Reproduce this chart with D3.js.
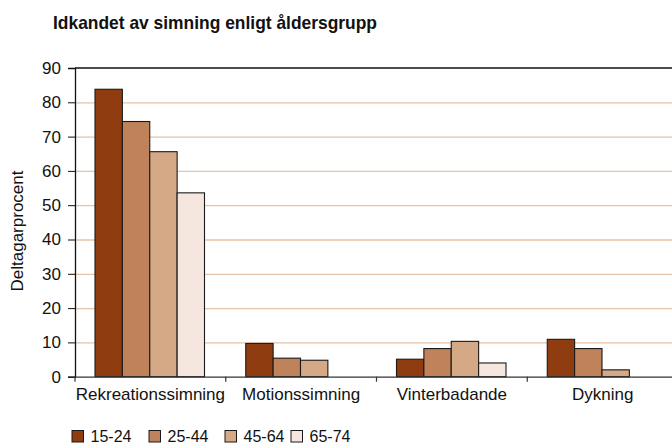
<!DOCTYPE html>
<html><head><meta charset="utf-8">
<script src="https://cdn.jsdelivr.net/npm/d3@7/dist/d3.min.js"></script>
<style>body{margin:0;background:#fff}svg{display:block;font-family:"Liberation Sans",Arial,Helvetica,sans-serif}</style>
</head><body><svg id="c" width="672" height="445"></svg>
<script>
const title = "Idkandet av simning enligt åldersgrupp";
const yLabel = "Deltagarprocent";
const categories = ["Rekreationssimning","Motionssimning","Vinterbadande","Dykning"];
const series = ["15-24","25-44","45-64","65-74"];
const s1524 = [83.8, 9.7, 5.1, 10.9];
const s2544 = [74.4, 5.4, 8.2, 8.2];
const s4564 = [65.6, 4.8, 10.3, 2.0];
const s6574 = [53.6, 0, 4.0, 0];
const yTicks = [0,10,20,30,40,50,60,70,80,90];
const colors = ["#8F3D10","#C0825A","#D5A886","#F5E7DF"];

const values = [s1524, s2544, s4564, s6574];
const svg = d3.select("#c");
const L = 75, R = 678, T = 68, B = 376.7;

const x0 = d3.scaleBand().domain(categories).range([L, R]).padding(0);
const x1 = d3.scaleBand().domain(series).range([20, 129.5]).padding(0);
const y = d3.scaleLinear().domain([0, 90]).range([B, T]);

// title
svg.append("text").attr("x", 53).attr("y", 29).attr("font-weight", "bold")
  .attr("font-size", 18.5).attr("textLength", 324).attr("lengthAdjust", "spacingAndGlyphs")
  .attr("fill", "#111").text(title);

// gridlines
svg.append("g").selectAll("line").data(yTicks.filter(t => t > 0 && t < 90)).join("line")
  .attr("x1", L).attr("x2", R).attr("y1", d => y(d) + 0.5).attr("y2", d => y(d) + 0.5)
  .attr("stroke", "#E6C3A6").attr("stroke-width", 1.3);
// top frame line
svg.append("line").attr("x1", L).attr("x2", R).attr("y1", y(90)).attr("y2", y(90))
  .attr("stroke", "#111").attr("stroke-width", 1.3);

// bars
const groups = svg.append("g").selectAll("g").data(categories).join("g")
  .attr("transform", d => `translate(${x0(d)},0)`);
groups.selectAll("rect").data((c, ci) => series.map((s, si) => ({s, si, v: values[si][ci]})).filter(d => d.v > 0))
  .join("rect")
  .attr("x", d => x1(d.s)).attr("width", x1.bandwidth())
  .attr("y", d => y(d.v)).attr("height", d => y(0) - y(d.v))
  .attr("fill", d => colors[d.si]).attr("stroke", "#1a1a1a").attr("stroke-width", 1.1);

// y axis
const ya = svg.append("g").attr("transform", `translate(${L},0)`)
  .call(d3.axisLeft(y).tickValues(yTicks).tickSize(7).tickPadding(7).tickFormat(d3.format("d")));
ya.select(".domain").attr("stroke", "#111").attr("stroke-width", 1.3);
ya.selectAll(".tick line").attr("stroke", "#111");
ya.selectAll("text").attr("font-size", 17).attr("fill", "#111").attr("font-family", null);

// x axis
const xa = svg.append("g").attr("transform", `translate(0,${B})`)
  .call(d3.axisBottom(x0).tickSize(0).tickPadding(11));
xa.select(".domain").attr("stroke", "#333").attr("stroke-width", 1.3);
xa.selectAll("text").attr("font-size", 17).attr("fill", "#111").attr("font-family", null);
// boundary ticks
svg.append("g").selectAll("line").data(categories).join("line")
  .attr("x1", d => x0(d)).attr("x2", d => x0(d)).attr("y1", B).attr("y2", B + 5)
  .attr("stroke", "#333").attr("stroke-width", 1.2);

// y label
svg.append("text").attr("transform", "translate(23,231) rotate(-90)")
  .attr("text-anchor", "middle").attr("font-size", 17).attr("fill", "#111").text(yLabel);

// legend
const legX = [72, 149, 225, 291];
const lg = svg.append("g").selectAll("g").data(series).join("g")
  .attr("transform", (d, i) => `translate(${legX[i]},430.5)`);
lg.append("rect").attr("width", 11.5).attr("height", 11.5)
  .attr("fill", (d, i) => colors[i]).attr("stroke", "#1a1a1a").attr("stroke-width", 1);
lg.append("text").attr("x", 18.5).attr("y", 11.5).attr("font-size", 16).attr("fill", "#111").text(d => d);
</script></body></html>
